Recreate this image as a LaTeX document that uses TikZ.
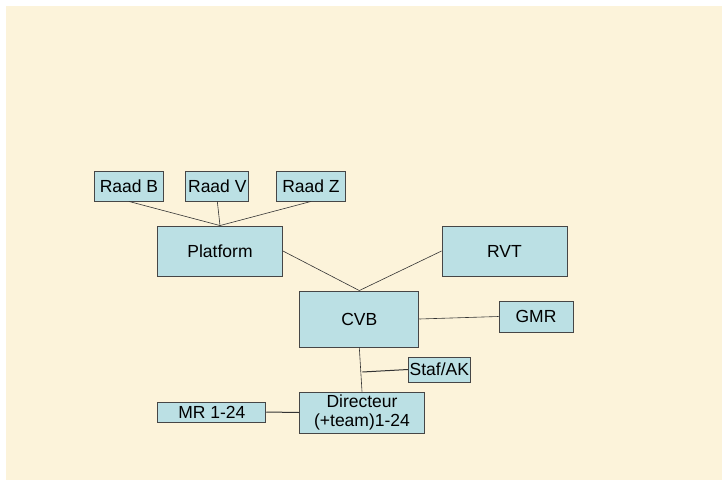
\documentclass[tikz,border=0pt]{standalone}
\usepackage{fontspec}
\setmainfont{Liberation Sans}
\definecolor{parchment}{RGB}{252,243,218}
\definecolor{boxfill}{RGB}{187,224,228}
\definecolor{boxline}{RGB}{70,70,70}
\begin{document}
\begin{tikzpicture}[x=1pt,y=-1pt,
    unit/.style={draw=boxline,fill=boxfill,line width=0.9pt,inner sep=0pt,
      align=center,font=\fontsize{17.5}{19}\selectfont},
    link/.style={draw=black!80,line width=0.6pt}]
      \useasboundingbox (0,0) rectangle (722,482);
      \fill[white] (0,0) rectangle (722,482);
      \fill[parchment] (6,6) rectangle (722,480);
      \draw
        (129,186) node[unit,minimum width=69pt,minimum height=30pt] (raadb){Raad B}
        (217.3,186) node[unit,minimum width=63pt,minimum height=30pt] (raadv){Raad V}
        (311,186) node[unit,minimum width=69pt,minimum height=30pt] (raadz){Raad Z}
        (220,251) node[unit,minimum width=125pt,minimum height=50pt] (platform){Platform}
        (504.5,251) node[unit,minimum width=125pt,minimum height=50pt] (rvt){RVT}
        (359.3,319) node[unit,minimum width=119pt,minimum height=56pt] (cvb){CVB}
        (536,316.5) node[unit,minimum width=74pt,minimum height=31pt] (gmr){GMR}
        (439.3,369.5) node[unit,minimum width=62pt,minimum height=25pt] (staf){Staf/AK}
        (362,412.5) node[unit,minimum width=125pt,minimum height=41pt] (dir){Directeur\\(+team)1-24}
        (211.8,412) node[unit,minimum width=108pt,minimum height=20pt] (mr){MR 1-24};
      \coordinate (join) at (362.3,372);
      \begin{scope}[link]
        \draw (raadb.south) to (platform.north);
        \draw (raadv.south) to (platform.north);
        \draw (raadz.south) to (platform.north);
        \draw (platform.east) to (cvb.north);
        \draw (rvt.west) to (cvb.north);
        \draw (cvb.east) to (gmr.west);
        \draw (cvb.south) to (dir.north);
        \draw[line width=1pt] (staf.west) to (join);
        \draw[line width=1pt] (mr.east) to (dir.west);
      \end{scope}
    \end{tikzpicture}
\end{document}
